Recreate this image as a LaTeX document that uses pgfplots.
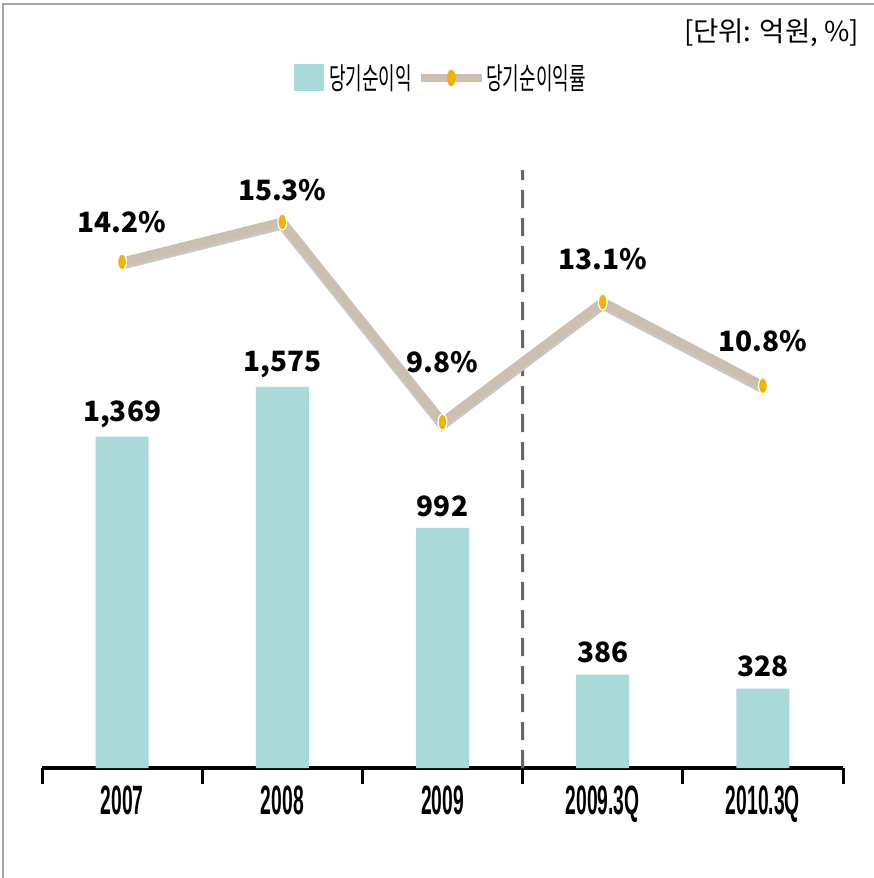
\documentclass[border=0pt]{standalone}
\usepackage{pgfplots}
\pgfplotsset{compat=1.18}
\usepackage{fontspec}
\newfontfamily\kr{Noto Sans CJK KR}
\newfontfamily\lib{Liberation Sans}
\definecolor{barc}{HTML}{A9D9D9}
\definecolor{linec}{HTML}{CDBFAD}
\definecolor{mk}{HTML}{F0B400}
\newcommand\sqz[1]{\scalebox{0.47}[1]{#1}}
\newcommand\sqk[1]{\scalebox{0.6}[1]{#1}}
\begin{document}
\begin{tikzpicture}
\path[use as bounding box] (0pt,0pt) rectangle (874pt,-878pt);
\fill[white] (0pt,0pt) rectangle (874pt,-878pt);
\draw[gray!70, line width=2pt] (3pt,-878pt) -- (3pt,-4pt) -- (874pt,-4pt);
\node[font=\kr\fontsize{27.5}{32}\selectfont, anchor=east, inner sep=0pt] at (859pt,-33pt) {[단위: 억원, \%]};

\begin{axis}[at={(42pt,-768pt)}, anchor=south west, scale only axis, width=801pt, height=668pt,
 xmin=-0.5, xmax=4.5, ymin=0, ymax=2760,
 axis x line=bottom, axis y line=none, axis line style={-, line width=4pt, black},
 xtick={0,...,4}, xticklabels={\sqz{2007},\sqz{2008},\sqz{2009},\sqz{2009.3Q},\sqz{2010.3Q}},
 major tick length=0pt,
 minor xtick={-0.5,0.5,1.5,2.5,3.5,4.5}, minor tick length=16pt, tick align=outside,
 minor tick style={line width=3pt,black},
 xticklabel style={font=\lib\bfseries\fontsize{41}{44}\selectfont, yshift=-14pt},
 legend style={at={(0.5,1.033)}, anchor=center, draw=none, fill=none,
   font=\kr\fontsize{30}{32}\selectfont, legend columns=2,
   nodes={inner xsep=5pt},
   /tikz/every even column/.append style={column sep=4pt}},
 legend cell align=left,
 clip=false]
\addplot[ybar, bar width=53pt, fill=barc, draw=none,
  nodes near coords, point meta=explicit symbolic,
  nodes near coords style={font=\kr\bfseries\fontsize{28}{32}\selectfont, anchor=center, yshift=22pt},
  legend image code/.code={\fill[barc] (0pt,-13pt) rectangle (30pt,14pt);}]
 table[meta=lab] {
x y lab
0 1369 1,369
1 1575 1,575
2 992 992
3 386 386
4 328 328
};
\addlegendentry{\sqk{당기순이익}}
\addlegendimage{legend image code/.code={\fill[linec] (0pt,-3.5pt) rectangle (60pt,3.5pt); \fill[mk] (30pt,0pt) ellipse (4pt and 8pt);}}
\addlegendentry{\sqk{당기순이익률}}
\draw[gray!80!black, line width=3pt, dash pattern=on 18pt off 10pt] (axis cs:2.5,0) -- (rel axis cs:0.6,0.895);
\end{axis}

\begin{axis}[at={(42pt,-768pt)}, anchor=south west, scale only axis, width=801pt, height=668pt,
 xmin=-0.5, xmax=4.5, ymin=0.3, ymax=18.65, hide axis, clip=false]
\addplot[line width=11pt, black!22, yshift=-2pt, forget plot] table {
x y
0 14.2
1 15.3
2 9.8
3 13.1
4 10.8
};
\addplot[line width=9pt, linec, line join=round, mark=*, mark size=8pt,
  mark options={fill=mk, draw=white, line width=1.2pt, xscale=0.55, solid},
  nodes near coords={\pgfplotspointmeta\%}, point meta=explicit symbolic,
  visualization depends on={\thisrow{off}\as\myoff},
  nodes near coords style={font=\kr\bfseries\fontsize{28}{32}\selectfont, anchor=center, yshift=\myoff pt, text=black}]
 table[meta=lab] {
x y lab off
0 14.2 14.2 40
1 15.3 15.3 32
2 9.8 9.8 60
3 13.1 13.1 43
4 10.8 10.8 45
};
\end{axis}
\end{tikzpicture}
\end{document}
